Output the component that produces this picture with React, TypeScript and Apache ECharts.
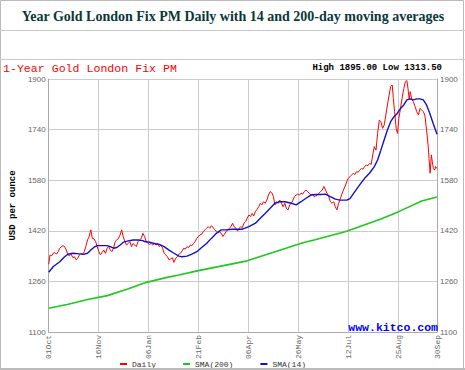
import React, { useEffect, useRef } from "react";
import * as echarts from "echarts";

const titleText = "Year Gold London Fix PM Daily with 14 and 200-day moving averages";
const subTitleText = "1-Year Gold London Fix PM";
const highLowText = "High 1895.00 Low 1313.50";
const axisTitle = "USD per ounce";
const watermark = "www.kitco.com";
const dateLabels = ["01Oct", "16Nov", "06Jan", "21Feb", "06Apr", "26May", "12Jul", "25Aug", "30Sep"];
const LAST_DAY = 249;
const DAY_STEP = 32;
const Y_MIN = 1100;
const Y_MAX = 1900;
const Y_STEP = 160;

// [trading-day index, price]
const daily: [number, number][] = [
  [0, 1314], [0.8, 1343], [1.9, 1341], [2.9, 1349], [4, 1351], [5, 1346], [6.1, 1354], [7.1, 1365], [8.2, 1370], [9.2, 1373],
  [10.2, 1370], [11.3, 1359], [12.3, 1344], [13.4, 1341], [14.4, 1346], [15.5, 1335], [16.5, 1338], [17.6, 1328], [18.6, 1333], [19.7, 1344],
  [20.7, 1349], [21.7, 1346], [22.8, 1354], [23.8, 1370], [24.9, 1391], [25.9, 1401], [27, 1423], [28, 1396], [29.1, 1394], [30.1, 1386],
  [31.1, 1370], [32.2, 1354], [33.2, 1344], [34.3, 1352], [35.3, 1359], [36.4, 1349], [37.4, 1365], [38.5, 1370], [39.5, 1359], [40.5, 1354],
  [41.6, 1365], [42.6, 1386], [43.7, 1391], [44.7, 1396], [45.8, 1407], [46.8, 1423], [47.8, 1401], [48.9, 1386], [49.9, 1375], [51, 1380],
  [52, 1386], [53.1, 1370], [54.1, 1380], [55.2, 1375], [56.2, 1370], [57.3, 1386], [58.3, 1391], [59.4, 1396], [60.4, 1412], [61.5, 1402],
  [62.5, 1386], [63.6, 1380], [64.6, 1377], [65.7, 1380], [66.7, 1375], [67.8, 1380], [68.8, 1375], [69.9, 1380], [70.9, 1370], [72, 1375],
  [73, 1365], [74, 1349], [75.1, 1344], [76.1, 1338], [77.2, 1328], [78.2, 1331], [79.3, 1335], [80.3, 1320], [81.4, 1333], [82.4, 1338],
  [83.4, 1346], [84.5, 1349], [85.5, 1356], [86.6, 1365], [87.6, 1362], [88.7, 1370], [89.7, 1367], [90.8, 1375], [91.8, 1373], [92.9, 1380],
  [93.9, 1386], [94.9, 1396], [96, 1402], [97, 1407], [98.1, 1409], [99.1, 1417], [100.2, 1423], [101.2, 1428], [102.3, 1433], [103.3, 1428],
  [104.3, 1436], [105.4, 1431], [106.4, 1423], [107.5, 1419], [108.5, 1415], [109.6, 1417], [110.6, 1412], [111.7, 1402], [112.7, 1409], [113.7, 1417],
  [114.8, 1423], [115.8, 1428], [116.9, 1433], [117.9, 1444], [119, 1433], [120, 1428], [121.1, 1419], [122.1, 1428], [123.1, 1433], [124.2, 1430],
  [125.2, 1444], [126.3, 1449], [127.3, 1460], [128.4, 1470], [129.4, 1465], [130.5, 1475], [131.5, 1467], [132.6, 1481], [133.6, 1488], [134.7, 1496],
  [135.7, 1507], [136.7, 1502], [137.8, 1512], [138.8, 1507], [139.9, 1517], [140.9, 1533], [142, 1544], [143, 1541], [144.1, 1528], [145.1, 1502],
  [146.2, 1512], [147.2, 1507], [148.2, 1517], [149.3, 1507], [150.3, 1496], [151.4, 1507], [152.4, 1491], [153.5, 1486], [154.5, 1502], [155.6, 1507],
  [156.6, 1517], [157.6, 1528], [158.7, 1533], [159.7, 1536], [160.8, 1533], [161.8, 1539], [162.9, 1536], [163.9, 1544], [165, 1549], [166, 1544],
  [167, 1539], [168.1, 1533], [169.1, 1536], [170.2, 1528], [171.2, 1530], [172.3, 1533], [173.3, 1539], [174.4, 1544], [175.4, 1549], [176.5, 1560],
  [177.5, 1549], [178.5, 1539], [179.6, 1528], [180.6, 1512], [181.7, 1507], [182.7, 1512], [183.8, 1496], [184.8, 1486], [185.9, 1507], [186.9, 1520],
  [188, 1536], [189, 1549], [190, 1560], [191.1, 1575], [192.1, 1586], [193.2, 1591], [194.2, 1596], [195.3, 1602], [196.3, 1598], [197.4, 1607],
  [198.4, 1605], [199.4, 1612], [200.5, 1617], [201.5, 1615], [202.6, 1623], [203.6, 1628], [204.7, 1626], [205.7, 1633], [206.8, 1630], [207.8, 1660],
  [208.8, 1686], [209.9, 1675], [210.9, 1728], [212, 1770], [213, 1765], [214.1, 1744], [215.1, 1754], [216.2, 1786], [217.2, 1818], [218.3, 1849],
  [219.3, 1876], [220.3, 1881], [221, 1839], [221.8, 1797], [222.8, 1744], [223.7, 1728], [224.5, 1775], [225.6, 1807], [226.6, 1839], [227.7, 1870],
  [228.7, 1891], [229.7, 1895], [230.4, 1870], [231.2, 1834], [231.8, 1860], [232.9, 1834], [233.9, 1828], [235, 1812], [236, 1797], [237.1, 1786],
  [238.1, 1807], [239.2, 1802], [240.2, 1797], [241.2, 1786], [242.3, 1739], [243.3, 1691], [243.9, 1649], [244.6, 1602], [245.4, 1660], [246, 1638],
  [246.7, 1617], [247.5, 1612], [248.1, 1623], [249, 1617],
];

const sma14: [number, number][] = [
  [0, 1289], [3, 1307], [7.1, 1322], [10.2, 1338], [12.3, 1346], [15.5, 1349], [19.7, 1347], [22.8, 1346], [24.9, 1349], [27, 1359],
  [29.1, 1368], [31.1, 1373], [34.3, 1373], [37.4, 1373], [39.5, 1370], [41.6, 1365], [43.7, 1367], [45.8, 1375], [47.9, 1384], [51, 1388],
  [54.1, 1391], [57.3, 1391], [60.4, 1389], [61.5, 1386], [64.6, 1384], [67.8, 1380], [70.9, 1377], [74, 1370], [77.2, 1359], [80.3, 1349],
  [83.5, 1340], [85.5, 1338], [88.7, 1340], [91.8, 1346], [95, 1354], [98.1, 1367], [101.2, 1380], [104.3, 1396], [107.5, 1412], [110.6, 1423],
  [113.7, 1423], [117.9, 1425], [122.1, 1425], [124.2, 1425], [128.4, 1433], [132.6, 1444], [135.7, 1460], [138.8, 1475], [142, 1491], [145.1, 1507],
  [148.2, 1512], [151.4, 1512], [155.6, 1507], [158.7, 1502], [161.8, 1512], [165, 1523], [168.1, 1533], [171.2, 1535], [174.4, 1535], [177.5, 1536],
  [180.6, 1528], [183.8, 1520], [186.9, 1517], [191.1, 1517], [193.2, 1522], [196.3, 1544], [199.4, 1565], [202.6, 1586], [205.7, 1602], [208.8, 1623],
  [210.9, 1644], [213, 1675], [215.1, 1707], [217.2, 1739], [219.3, 1765], [221.4, 1781], [223.5, 1791], [225.6, 1807], [227.7, 1818], [229.7, 1834],
  [231.8, 1837], [233.9, 1834], [236, 1837], [238.1, 1837], [240.2, 1834], [242.3, 1818], [244.4, 1791], [246.5, 1760], [249, 1725],
];

const sma200: [number, number][] = [
  [0, 1175], [12.5, 1188], [25, 1203], [37.6, 1215], [50.2, 1235], [62.7, 1257], [75.3, 1272], [83.5, 1280], [96, 1294], [127.3, 1325],
  [163, 1382], [170.2, 1391], [190, 1417], [192, 1420], [213, 1457], [223.7, 1479], [239.2, 1514], [249, 1527],
];

const shift = (arr: [number, number][]) => arr.map(([d, v]) => [d, v - Y_MIN]);
const xLabel = (v: number) => (v === LAST_DAY ? dateLabels[dateLabels.length - 1] : dateLabels[Math.round(v / DAY_STEP)] ?? "");
const yLabel = (v: number) => String(v + Y_MIN);

const mono = "'Liberation Mono', 'DejaVu Sans Mono', monospace";
const sans = "'Liberation Sans', Arial, sans-serif";

export default function App() {
  const ref = useRef<HTMLDivElement>(null);
  useEffect(() => {
    if (!ref.current) return;
    const chart = echarts.init(ref.current, undefined, { renderer: "svg" });
    const yAxisBase = {
      type: "value" as const,
      min: 0,
      max: Y_MAX - Y_MIN,
      interval: Y_STEP,
      axisTick: { show: false },
      axisLine: { show: true, lineStyle: { color: "#aaaaaa", width: 1 } },
      axisLabel: { formatter: yLabel, fontSize: 8, color: "#666666", fontFamily: sans, margin: 3 },
    };
    chart.setOption({
      animation: false,
      backgroundColor: "#ffffff",
      grid: { left: 40, top: 79, width: 397, height: 253, containLabel: false },
      xAxis: {
        type: "value",
        min: 0,
        max: LAST_DAY,
        interval: DAY_STEP,
        axisTick: { show: false },
        axisLine: { show: true, lineStyle: { color: "#aaaaaa", width: 1 } },
        splitLine: { show: true, lineStyle: { color: "#cccccc", width: 1 } },
        axisLabel: {
          formatter: xLabel,
          rotate: 90,
          fontSize: 8,
          color: "#666666",
          fontFamily: mono,
          margin: 3,
          showMinLabel: true,
          showMaxLabel: true,
          hideOverlap: false,
        },
      },
      yAxis: [
        {
          ...yAxisBase,
          position: "left",
          name: axisTitle,
          nameLocation: "middle",
          nameRotate: 90,
          nameGap: 30,
          nameTextStyle: { fontFamily: mono, fontWeight: "bold", fontSize: 9, color: "#000000" },
          splitLine: { show: true, lineStyle: { color: "#cccccc", width: 1 } },
        },
        { ...yAxisBase, position: "right", splitLine: { show: false } },
      ],
      legend: {
        left: 120,
        top: 360,
        padding: 0,
        itemWidth: 7,
        itemHeight: 2,
        itemGap: 27,
        icon: "rect",
        textStyle: { fontFamily: mono, fontSize: 8, color: "#333333" },
        data: ["Daily", "SMA(200)", "SMA(14)"],
      },
      series: [
        {
          name: "Daily",
          type: "line",
          data: shift(daily),
          showSymbol: false,
          symbol: "none",
          lineStyle: { color: "#ff0000", width: 1 },
          itemStyle: { color: "#ff0000" },
          z: 2,
        },
        {
          name: "SMA(200)",
          type: "line",
          data: shift(sma200),
          showSymbol: false,
          symbol: "none",
          lineStyle: { color: "#1ec81e", width: 1.6 },
          itemStyle: { color: "#1ec81e" },
          z: 3,
        },
        {
          name: "SMA(14)",
          type: "line",
          data: shift(sma14),
          showSymbol: false,
          symbol: "none",
          lineStyle: { color: "#1111cc", width: 1.4 },
          itemStyle: { color: "#1111cc" },
          z: 4,
        },
      ],
      graphic: [
        { type: "rect", shape: { x: 0.5, y: 0.5, width: 463, height: 368 }, style: { fill: "none", stroke: "#bbbbbb", lineWidth: 1 }, z: 10 },
        { type: "line", shape: { x1: 0, y1: 30.5, x2: 465, y2: 30.5 }, style: { stroke: "#c8c8c8", lineWidth: 1 }, z: 10 },
        { type: "line", shape: { x1: 0, y1: 59.5, x2: 465, y2: 59.5 }, style: { stroke: "#c8c8c8", lineWidth: 1 }, z: 10 },
        {
          type: "text",
          x: 233,
          y: 16,
          style: {
            text: titleText,
            fill: "#0a3838",
            font: "bold 14px 'Liberation Serif', 'Times New Roman', serif",
            textAlign: "center",
            textVerticalAlign: "middle",
          },
          z: 10,
        },
        {
          type: "text",
          x: 3,
          y: 68,
          style: { text: subTitleText, fill: "#ff0000", font: `11.6px ${mono}`, textAlign: "left", textVerticalAlign: "middle" },
          z: 10,
        },
        {
          type: "text",
          x: 442,
          y: 68,
          style: { text: highLowText, fill: "#000000", font: `bold 9px ${mono}`, textAlign: "right", textVerticalAlign: "middle" },
          z: 10,
        },
        {
          type: "text",
          x: 438,
          y: 327,
          style: { text: watermark, fill: "#0000ff", font: `bold 11.5px ${mono}`, textAlign: "right", textVerticalAlign: "middle" },
          z: 10,
        },
        { type: "rect", shape: { x: 0, y: 368, width: 465, height: 2 }, style: { fill: "#bbbbbb" }, z: 11 },
      ],
    });
    return () => chart.dispose();
  }, []);
  return <div ref={ref} style={{ position: "fixed", left: 0, top: 0, width: 465, height: 370 }} />;
}
